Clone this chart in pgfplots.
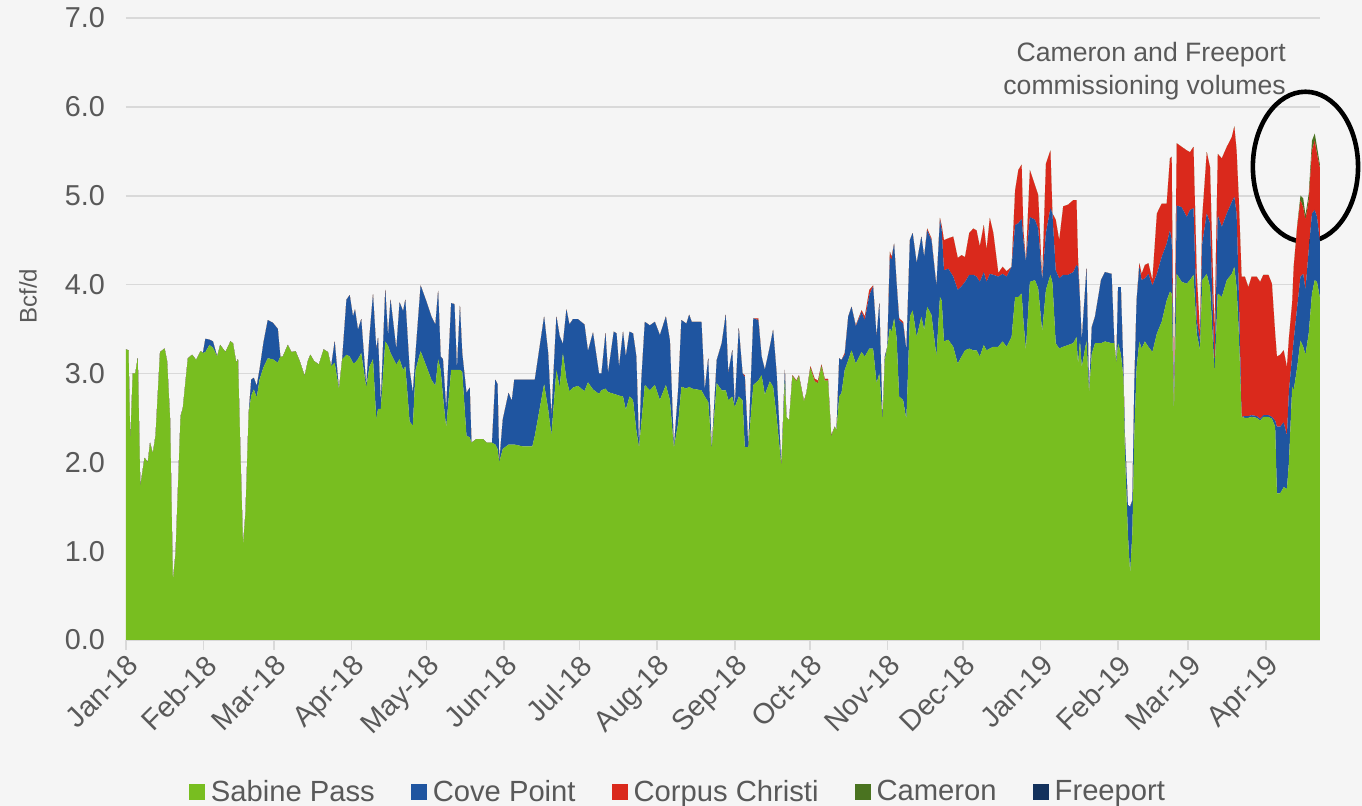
\documentclass[border=0pt]{standalone}
\usepackage{fontspec}
\setmainfont{Liberation Sans}
\usepackage{pgfplots}
\usepackage{pgfplotstable}
\pgfplotsset{compat=1.18}
\usetikzlibrary{backgrounds}

\definecolor{bg}{RGB}{245,245,245}
\definecolor{gridc}{RGB}{217,217,217}
\definecolor{txt}{RGB}{89,89,89}
\definecolor{sabine}{RGB}{120,190,32}
\definecolor{cove}{RGB}{31,85,160}
\definecolor{corpus}{RGB}{218,41,28}
\definecolor{cameron}{RGB}{74,115,32}
\definecolor{freeport}{RGB}{19,49,92}

% day 0 = 1 Jan 2018; Bcf/d per terminal
\pgfplotstableread{
d sab cove cc cam
0 3.27 0 0 0
1 3.26 0 0 0
1.7 2.22 0 0 0
2.7 3.00 0 0 0
3.7 3.00 0 0 0
4.7 3.17 0 0 0
5.7 1.73 0 0 0
7.4 2.05 0 0 0
8.7 2.00 0 0 0
9.6 2.22 0 0 0
10.7 2.10 0 0 0
11.8 2.30 0 0 0
13.6 3.24 0 0 0
15.4 3.28 0 0 0
16.4 3.14 0 0 0
17.6 2.48 0 0 0
18.7 0.66 0 0 0
19.8 0.98 0 0 0
21.8 2.52 0 0 0
22.7 2.61 0 0 0
24.7 3.17 0 0 0
26.4 3.21 0 0 0
28.0 3.15 0 0 0
29.8 3.25 0 0 0
30.7 3.23 0 0 0
31.7 3.24 0.15 0 0
33.3 3.32 0.06 0 0
34.7 3.29 0.07 0 0
36.4 3.19 0 0 0
37.6 3.32 0 0 0
39.7 3.24 0 0 0
41.7 3.36 0 0 0
42.7 3.34 0 0 0
44.0 3.12 0 0 0
44.7 3.16 0 0 0
45.6 2.18 0 0 0
46.7 1.06 0 0 0
47.7 1.43 0 0 0
49.0 2.56 0 0 0
50.0 2.75 0.18 0 0
51.0 2.82 0.13 0 0
52.2 2.73 0.13 0 0
53.3 2.93 0.11 0 0
54.9 3.07 0.28 0 0
56.6 3.17 0.43 0 0
58.6 3.16 0.41 0 0
60.6 3.12 0.38 0 0
61.6 3.19 0 0 0
62.6 3.19 0 0 0
64.6 3.32 0 0 0
66.0 3.24 0 0 0
67.7 3.25 0 0 0
69.3 3.14 0 0 0
71.3 2.97 0 0 0
72.6 3.14 0 0 0
73.6 3.21 0 0 0
75.0 3.14 0 0 0
77.0 3.10 0 0 0
78.9 3.27 0 0 0
80.6 3.24 0 0 0
81.9 3.08 0 0 0
83.3 3.12 0.24 0 0
85.0 2.82 0 0 0
86.3 3.16 0 0 0
88.0 3.21 0.62 0 0
89.3 3.19 0.69 0 0
90.6 3.12 0.52 0 0
91.4 3.12 0.60 0 0
92.6 3.16 0.33 0 0
93.9 3.23 0.38 0 0
95.9 2.84 0.02 0 0
97.2 3.08 0.34 0 0
98.6 3.16 0.73 0 0
99.9 2.48 0.79 0 0
100.6 2.60 0.80 0 0
101.7 2.60 0.07 0 0
103.5 3.36 0.58 0 0
104.6 3.31 0.11 0 0
105.6 3.23 0.60 0 0
107.9 3.10 0.17 0 0
109.2 3.16 0.64 0 0
110.6 3.04 0.66 0 0
111.5 3.08 0.75 0 0
113.2 2.46 0.58 0 0
114.5 2.41 0.37 0 0
115.6 3.04 0.19 0 0
117.6 3.25 0.74 0 0
119.9 3.08 0.73 0 0
121.9 2.93 0.71 0 0
123.5 2.86 0.69 0 0
124.6 3.16 0.77 0 0
125.6 3.04 0.15 0 0
126.5 2.75 0.41 0 0
127.8 2.39 0.21 0 0
129.8 3.04 0.75 0 0
131.1 3.04 0.74 0 0
132.1 3.04 0 0 0
133.3 3.04 0.72 0 0
134.2 3.02 0.21 0 0
135.9 2.30 0.48 0 0
137.2 2.28 0.56 0 0
137.9 2.22 0 0 0
139.8 2.26 0 0 0
142.5 2.26 0 0 0
144.0 2.22 0 0 0
146.1 2.22 0 0 0
147.4 2.20 0.73 0 0
148.3 2.15 0.73 0 0
149.0 2.00 0 0 0
150.4 2.15 0.33 0 0
152.7 2.20 0.58 0 0
154.0 2.20 0.49 0 0
155.0 2.20 0.73 0 0
158.2 2.18 0.75 0 0
162.2 2.18 0.75 0 0
163.2 2.30 0.63 0 0
166.9 2.88 0.76 0 0
168.5 2.60 0.63 0 0
169.8 2.30 0.22 0 0
171.8 3.04 0.60 0 0
173.1 2.84 0.58 0 0
174.4 3.23 0.10 0 0
175.8 2.93 0.79 0 0
177.0 2.80 0.75 0 0
178.4 2.84 0.77 0 0
180.4 2.86 0.75 0 0
183.0 2.80 0.75 0 0
184.4 2.90 0.35 0 0
186.4 2.82 0.64 0 0
188.8 2.77 0.23 0 0
189.8 2.81 0.19 0 0
191.4 2.83 0.62 0 0
192.4 2.79 0.21 0 0
194.7 2.77 0.70 0 0
195.8 2.76 0.69 0 0
196.8 2.75 0.32 0 0
198.4 2.74 0.73 0 0
199.5 2.59 0.60 0 0
201.0 2.74 0.73 0 0
202.4 2.70 0.75 0 0
203.7 2.36 0.83 0 0
204.8 2.16 0 0 0
205.7 2.44 0.48 0 0
207.1 2.87 0.71 0 0
209.1 2.81 0.73 0 0
211.1 2.87 0.71 0 0
213.1 2.70 0.73 0 0
215.5 2.87 0.77 0 0
217.1 2.70 0.67 0 0
218.7 2.16 0 0 0
220.4 2.44 0.37 0 0
221.7 2.85 0.75 0 0
223.7 2.83 0.73 0 0
224.8 2.85 0.81 0 0
225.8 2.83 0.75 0 0
229.7 2.81 0.77 0 0
231.0 2.74 0.07 0 0
232.4 2.68 0.49 0 0
233.8 2.14 0 0 0
235.8 2.89 0.26 0 0
237.8 2.81 0.53 0 0
239.4 2.81 0.85 0 0
240.4 2.70 0.30 0 0
242.0 2.74 0.52 0 0
243.0 2.62 0 0 0
244.6 2.74 0.77 0 0
246.1 2.70 0.30 0 0
247.0 2.17 0.79 0.02 0
248.4 2.17 0 0 0
250.4 2.87 0.75 0 0
252.4 2.92 0.68 0.02 0
253.7 2.98 0.21 0 0
255.0 2.76 0.28 0 0
257.0 2.91 0.39 0 0
258.3 2.85 0.64 0 0
259.7 2.51 0.49 0 0
261.6 1.95 0 0 0
263.0 2.92 0.12 0 0
263.6 2.51 0 0 0
264.7 2.47 0 0 0
266.0 2.97 0 0.01 0
267.6 2.91 0 0.01 0
268.6 2.97 0 0.01 0
270.6 2.68 0 0.01 0
271.6 2.78 0 0 0
273.2 3.06 0 0.02 0
274.9 2.91 0 0.03 0
276.2 2.89 0 0.03 0
277.6 3.08 0 0.02 0
278.9 2.92 0 0.02 0
280.2 2.92 0 0.02 0
281.5 2.29 0 0.01 0
282.9 2.40 0 0 0
283.6 2.36 0 0 0
284.7 2.74 0.43 0 0
285.6 2.78 0.37 0 0
286.9 3.04 0.17 0.02 0
288.3 3.15 0.49 0 0
289.6 3.26 0.49 0 0
291.3 3.11 0.42 0.01 0
293.6 3.24 0.45 0.02 0
294.9 3.19 0.41 0.04 0
296.7 3.28 0.60 0.06 0
298.2 3.28 0.70 0.01 0
299.6 2.89 0.52 0 0
300.7 3.00 0.79 0 0
302.0 2.46 0 0 0
302.9 3.15 0.04 0 0
303.9 3.30 0 0 0
304.9 3.51 0.80 0.06 0
305.6 3.47 0.81 0.03 0
306.6 3.62 0.84 0 0
307.6 3.40 0.61 0 0
308.6 2.74 0.86 0.02 0
310.2 2.70 0.86 0.02 0
311.5 2.48 0.78 0 0
312.9 3.64 0.86 0 0
314.0 3.71 0.87 0 0
315.6 3.41 0.83 0 0
317.5 3.64 0.90 0 0
318.6 3.49 0.82 0 0
319.8 3.75 0.86 0.02 0
321.5 3.66 0.84 0.02 0
323.5 3.19 0.79 0 0
324.9 3.86 0.87 0.02 0
325.6 3.82 0.79 0.05 0
326.5 3.36 0.80 0.34 0
328.2 3.38 0.80 0.34 0
330.2 3.30 0.79 0.45 0
332.0 3.11 0.83 0.36 0
333.5 3.19 0.79 0.35 0
334.9 3.26 0.77 0.28 0
336.6 3.28 0.83 0.47 0
338.2 3.26 0.85 0.52 0
339.5 3.26 0.83 0.52 0
340.8 3.19 0.84 0.40 0
342.4 3.32 0.82 0.53 0
343.5 3.26 0.77 0.36 0
344.8 3.28 0.84 0.63 0
346.2 3.30 0.81 0.47 0
348.2 3.30 0.79 0.04 0
349.9 3.36 0.76 0.08 0
351.5 3.30 0.79 0.06 0
353.5 3.41 0.79 0 0
354.9 3.86 0.81 0.39 0
356.2 3.86 0.83 0.60 0
357.5 3.90 0.84 0.61 0
358.2 3.60 0.90 0.11 0
359.2 3.26 1.00 0 0
360.8 4.03 0.73 0.53 0
362.8 4.05 0.68 0.39 0
364.1 3.96 0.67 0.38 0
365.7 3.47 0.58 0 0
367.2 3.94 0.64 0.78 0
369.0 4.11 0.75 0.65 0
369.8 4.02 0.78 0 0
371.1 3.34 0.82 0.57 0
372.5 3.28 0.79 0.43 0
374.1 3.30 0.81 0.77 0
376.1 3.32 0.79 0.79 0
378.1 3.34 0.80 0.81 0
379.4 3.41 0.81 0.73 0
380.0 3.10 1.10 0.10 0
380.8 3.37 0.45 0 0
381.5 3.07 0.30 0 0
383.4 3.37 0.81 0 0
384.4 2.77 0 0 0
385.5 3.22 0.30 0 0
386.8 3.34 0.30 0 0
389.2 3.34 0.71 0 0
390.8 3.36 0.78 0 0
393.4 3.34 0.78 0 0
394.5 3.34 0 0 0
395.3 3.11 0 0 0
396.0 3.34 0.63 0 0
397.1 3.22 0.75 0 0
398.1 2.96 0.11 0 0
398.7 2.14 0.18 0 0
399.9 1.20 0.32 0 0
400.8 0.75 0.75 0 0
401.7 1.20 0.37 0 0
402.5 2.32 0.57 0 0
403.4 3.07 0.75 0 0
404.5 3.36 0.84 0.04 0
405.4 3.28 0.77 0.07 0
406.7 3.36 0.71 0.15 0
408.1 3.30 0.82 0.12 0
409.7 3.24 0.75 0.06 0
411.5 3.45 0.67 0.68 0
413.4 3.58 0.73 0.60 0
415.4 3.82 0.64 0.45 0
416.7 3.92 0.69 0.81 0
417.4 3.90 0.60 0.94 0
418.3 2.51 0 0 0
419.4 4.12 0.77 0.70 0
421.4 4.03 0.84 0.68 0
423.4 4.01 0.75 0.75 0
424.7 4.05 0.79 0.65 0
426.1 4.11 0.75 0.69 0
427.4 3.45 0.15 0.52 0
428.7 3.26 0.11 0.08 0
429.6 4.05 0.41 0.30 0
431.4 4.12 0.68 0.69 0
432.7 3.97 0.72 0.63 0
434.5 3.00 0.07 0.38 0
435.8 3.90 0.88 0.69 0
437.4 3.86 0.79 0.77 0
439.4 4.05 0.75 0.75 0
441.4 4.12 0.81 0.73 0
442.4 4.20 0.79 0.79 0
443.3 3.97 0.83 0.71 0
444.2 3.45 0.45 1.05 0
445.3 2.51 0 1.58 0
446.6 2.50 0.02 1.57 0
448.0 2.50 0.02 1.45 0
449.3 2.51 0.02 1.56 0
451.3 2.50 0.02 1.57 0
452.7 2.47 0.02 1.54 0
454.0 2.51 0.02 1.58 0
456.0 2.51 0.02 1.58 0
457.4 2.49 0.02 1.50 0
458.7 2.40 0.07 0.98 0
459.4 1.65 0.75 0.79 0
460.7 1.65 0.75 0.81 0
462.1 1.72 0.73 0.81 0
463.4 1.70 0.60 0.77 0
464.2 2.00 0.80 0.60 0
465.5 2.85 0.35 0.60 0
466.1 2.81 0.56 0.83 0
467.5 3.07 0.68 0.90 0.02
468.8 3.37 0.72 0.86 0.05
469.9 3.30 0.82 0.75 0.10
470.8 3.21 0.73 0.79 0.05
472.1 3.45 0.94 0.56 0.07
473.4 3.90 0.90 0.71 0.11
474.5 4.05 0.79 0.78 0.08
475.4 4.03 0.73 0.71 0.08
476.5 3.86 0.64 0.82 0.04
}\lng

\begin{document}
\begin{tikzpicture}
\begin{axis}[
  scale only axis, width=597pt, height=311pt,
  xmin=0, xmax=476.6, ymin=0, ymax=7,
  clip=false,
  stack plots=y,
  axis x line*=bottom, axis y line*=left,
  y axis line style={draw=none},
  x axis line style={gridc, line width=0.8pt},
  ytick={0,1,...,7},
  ytick style={draw=none},
  ytick align=inside,
  xtick align=outside,
  yticklabel={\pgfmathprintnumber[fixed,fixed zerofill,precision=1]{\tick}},
  /pgf/number format/assume math mode=true,
  xtick={0,31,59,90,120,151,181,212,243,273,304,334,365,396,424,455},
  xticklabels={Jan-18,Feb-18,Mar-18,Apr-18,May-18,Jun-18,Jul-18,Aug-18,Sep-18,Oct-18,Nov-18,Dec-18,Jan-19,Feb-19,Mar-19,Apr-19},
  xtick style={gridc, line width=0.8pt},
  major tick length=5pt,
  ymajorgrids, grid style={gridc, line width=0.8pt},
  tick label style={font=\fontsize{14.4}{16}\selectfont, text=txt},
  xticklabel style={rotate=45, anchor=north east, inner sep=1pt},
  yticklabel style={xshift=-7pt},
  ylabel={Bcf/d},
  ylabel style={at={(axis description cs:-0.082,0.553)}, anchor=center, font=\fontsize{12}{14}\selectfont, text=txt},
  legend columns=5,
  legend image code/.code={\fill[#1] (0pt,-4pt) rectangle (8pt,4pt); \path (9pt,0pt);},
  legend style={at={(0.4631,-0.2444)}, anchor=center, draw=none, fill=none,
    font=\fontsize{14.6}{16}\selectfont, text=txt,
    /tikz/every even column/.append style={column sep=16pt}},
]
\addplot[fill=sabine, draw=none] table[x=d, y=sab] {\lng} \closedcycle;
\addplot[fill=cove, draw=none] table[x=d, y=cove] {\lng} \closedcycle;
\addplot[fill=corpus, draw=none] table[x=d, y=cc] {\lng} \closedcycle;
\addplot[fill=cameron, draw=none] table[x=d, y=cam] {\lng} \closedcycle;
\addlegendimage{fill=freeport, draw=none}
\legend{Sabine Pass, Cove Point, Corpus Christi, Cameron, Freeport}

\node[anchor=north east, align=right, inner sep=0pt, text=txt,
  font=\fontsize{13.3}{16.5}\selectfont] at (axis cs:463.1,6.73)
  {Cameron and Freeport\\commissioning volumes};
\draw[line width=2.3pt] (axis cs:470.8,5.326) ellipse [x radius=26.3pt, y radius=37.5pt];

\coordinate (bl) at ([shift={(-63pt,-83pt)}]rel axis cs:0,0);
\coordinate (tr) at ([shift={(21pt,9pt)}]rel axis cs:1,1);
\end{axis}
\pgfresetboundingbox
\path[use as bounding box] (bl) rectangle (tr);
\begin{scope}[on background layer]
\fill[bg] (bl) rectangle (tr);
\end{scope}
\end{tikzpicture}
\end{document}
